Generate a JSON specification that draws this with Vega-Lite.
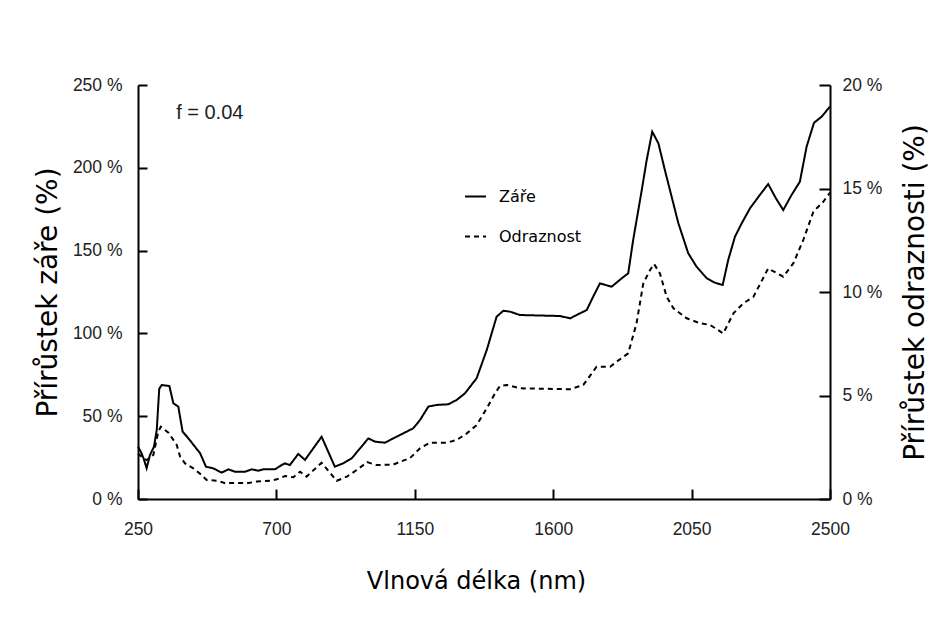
{
  "$schema": "https://vega.github.io/schema/vega-lite/v6.json",
  "width": 692,
  "height": 414,
  "autosize": {"type": "none"},
  "padding": {"left": 138, "top": 85, "right": 122, "bottom": 127},
  "background": "white",
  "config": {
    "view": {"stroke": null},
    "axis": {
      "grid": false,
      "domainColor": "black",
      "domainWidth": 2,
      "tickColor": "black",
      "tickWidth": 2,
      "labelFont": "Liberation Sans",
      "labelFontSize": 17.5,
      "labelColor": "#222",
      "labelFlush": false,
      "labelOverlap": false,
      "titleFont": "DejaVu Sans",
      "titleFontWeight": "normal",
      "titleColor": "black"
    },
    "legend": {
      "orient": "none",
      "legendX": 326,
      "legendY": 100,
      "padding": 0,
      "symbolType": "stroke",
      "symbolSize": 441,
      "symbolStrokeWidth": 2,
      "symbolStrokeColor": "black",
      "labelFont": "DejaVu Sans",
      "labelFontSize": 16,
      "labelColor": "black",
      "labelOffset": 12,
      "rowPadding": 20
    }
  },
  "datasets": {
    "zare": [
      {"nm": 250, "value": 31.6}, {"nm": 261, "value": 27.8}, {"nm": 268, "value": 24.6}, {"nm": 278, "value": 18.6},
      {"nm": 289, "value": 26.6}, {"nm": 302, "value": 31.6}, {"nm": 311, "value": 41.7}, {"nm": 319, "value": 66.5},
      {"nm": 327, "value": 68.8}, {"nm": 352, "value": 68.2}, {"nm": 365, "value": 57.8}, {"nm": 381, "value": 55.8},
      {"nm": 395, "value": 40.7}, {"nm": 414, "value": 36.6}, {"nm": 435, "value": 31.6}, {"nm": 452, "value": 27.6},
      {"nm": 471, "value": 19.5}, {"nm": 495, "value": 18.5}, {"nm": 522, "value": 15.9}, {"nm": 544, "value": 17.9},
      {"nm": 565, "value": 16.5}, {"nm": 598, "value": 16.5}, {"nm": 620, "value": 17.9}, {"nm": 641, "value": 17.1},
      {"nm": 657, "value": 17.9}, {"nm": 695, "value": 17.9}, {"nm": 717, "value": 20.5}, {"nm": 728, "value": 21.5},
      {"nm": 744, "value": 20.5}, {"nm": 771, "value": 27.2}, {"nm": 793, "value": 23.6}, {"nm": 847, "value": 37.6},
      {"nm": 890, "value": 19.5}, {"nm": 917, "value": 21.5}, {"nm": 945, "value": 24.6}, {"nm": 972, "value": 30.6},
      {"nm": 999, "value": 36.6}, {"nm": 1021, "value": 34.6}, {"nm": 1053, "value": 34.0}, {"nm": 1080, "value": 36.6},
      {"nm": 1113, "value": 39.7}, {"nm": 1145, "value": 42.7}, {"nm": 1167, "value": 47.7}, {"nm": 1194, "value": 55.8},
      {"nm": 1221, "value": 56.8}, {"nm": 1259, "value": 57.2}, {"nm": 1286, "value": 59.8}, {"nm": 1313, "value": 63.8},
      {"nm": 1351, "value": 72.9}, {"nm": 1384, "value": 90.0}, {"nm": 1416, "value": 110.1}, {"nm": 1438, "value": 113.7},
      {"nm": 1460, "value": 113.1}, {"nm": 1492, "value": 111.1}, {"nm": 1622, "value": 110.5}, {"nm": 1655, "value": 109.1},
      {"nm": 1676, "value": 111.1}, {"nm": 1709, "value": 114.1}, {"nm": 1730, "value": 122.2}, {"nm": 1752, "value": 130.2},
      {"nm": 1790, "value": 128.2}, {"nm": 1823, "value": 133.3}, {"nm": 1844, "value": 136.3}, {"nm": 1860, "value": 156.4},
      {"nm": 1888, "value": 186.6}, {"nm": 1904, "value": 204.7}, {"nm": 1922, "value": 221.8}, {"nm": 1942, "value": 214.8},
      {"nm": 1963, "value": 198.7}, {"nm": 1985, "value": 182.6}, {"nm": 2007, "value": 166.5}, {"nm": 2039, "value": 148.4},
      {"nm": 2066, "value": 140.3}, {"nm": 2099, "value": 133.3}, {"nm": 2126, "value": 130.6}, {"nm": 2151, "value": 129.2},
      {"nm": 2169, "value": 144.3}, {"nm": 2191, "value": 158.4}, {"nm": 2213, "value": 166.5}, {"nm": 2240, "value": 175.6},
      {"nm": 2272, "value": 183.6}, {"nm": 2299, "value": 190.2}, {"nm": 2324, "value": 181.6}, {"nm": 2348, "value": 174.5},
      {"nm": 2375, "value": 183.6}, {"nm": 2402, "value": 191.6}, {"nm": 2424, "value": 212.8}, {"nm": 2448, "value": 227.2},
      {"nm": 2473, "value": 230.9}, {"nm": 2500, "value": 237.0}
    ],
    "odraznost": [
      {"nm": 250, "value": 2.2}, {"nm": 265, "value": 2.0}, {"nm": 278, "value": 1.88}, {"nm": 300, "value": 2.13},
      {"nm": 316, "value": 3.25}, {"nm": 324, "value": 3.49}, {"nm": 349, "value": 3.2}, {"nm": 376, "value": 2.61},
      {"nm": 387, "value": 2.04}, {"nm": 403, "value": 1.72}, {"nm": 430, "value": 1.48}, {"nm": 457, "value": 1.16},
      {"nm": 473, "value": 0.92}, {"nm": 511, "value": 0.88}, {"nm": 533, "value": 0.76}, {"nm": 571, "value": 0.78},
      {"nm": 603, "value": 0.76}, {"nm": 636, "value": 0.84}, {"nm": 679, "value": 0.88}, {"nm": 701, "value": 0.95},
      {"nm": 728, "value": 1.11}, {"nm": 755, "value": 1.05}, {"nm": 777, "value": 1.32}, {"nm": 798, "value": 1.08},
      {"nm": 847, "value": 1.75}, {"nm": 896, "value": 0.88}, {"nm": 929, "value": 1.08}, {"nm": 961, "value": 1.4},
      {"nm": 995, "value": 1.78}, {"nm": 1026, "value": 1.64}, {"nm": 1080, "value": 1.66}, {"nm": 1102, "value": 1.8},
      {"nm": 1134, "value": 1.97}, {"nm": 1167, "value": 2.45}, {"nm": 1199, "value": 2.72}, {"nm": 1254, "value": 2.72},
      {"nm": 1286, "value": 2.85}, {"nm": 1319, "value": 3.17}, {"nm": 1351, "value": 3.57}, {"nm": 1384, "value": 4.38},
      {"nm": 1411, "value": 5.11}, {"nm": 1427, "value": 5.46}, {"nm": 1449, "value": 5.51}, {"nm": 1492, "value": 5.35},
      {"nm": 1655, "value": 5.3}, {"nm": 1698, "value": 5.51}, {"nm": 1741, "value": 6.39}, {"nm": 1785, "value": 6.39},
      {"nm": 1806, "value": 6.63}, {"nm": 1844, "value": 7.04}, {"nm": 1871, "value": 8.49}, {"nm": 1893, "value": 10.42},
      {"nm": 1915, "value": 11.06}, {"nm": 1928, "value": 11.35}, {"nm": 1947, "value": 10.9}, {"nm": 1969, "value": 9.77},
      {"nm": 1991, "value": 9.21}, {"nm": 2034, "value": 8.73}, {"nm": 2077, "value": 8.49}, {"nm": 2110, "value": 8.41},
      {"nm": 2153, "value": 8.0}, {"nm": 2186, "value": 8.97}, {"nm": 2218, "value": 9.45}, {"nm": 2251, "value": 9.77},
      {"nm": 2299, "value": 11.14}, {"nm": 2348, "value": 10.74}, {"nm": 2381, "value": 11.39}, {"nm": 2413, "value": 12.51},
      {"nm": 2446, "value": 13.88}, {"nm": 2478, "value": 14.36}, {"nm": 2500, "value": 14.8}
    ]
  },
  "layer": [
    {
      "layer": [
        {
          "data": {"name": "zare"},
          "mark": {"type": "line", "color": "black", "strokeWidth": 2},
          "encoding": {
            "x": {
              "field": "nm", "type": "quantitative",
              "scale": {"domain": [250, 2500], "nice": false, "zero": false},
              "axis": {
                "values": [250, 700, 1150, 1600, 2050, 2500],
                "format": "d",
                "title": "Vlnová délka (nm)",
                "titleFontSize": 24,
                "titleX": 338,
                "ticks": false,
                "tickSize": 0,
                "labelPadding": 21,
                "titlePadding": 32
              }
            },
            "y": {
              "field": "value", "type": "quantitative",
              "scale": {"domain": [0, 250], "nice": false},
              "axis": {
                "orient": "left",
                "values": [0, 50, 100, 150, 200, 250],
                "labelExpr": "datum.value + ' %'",
                "title": "Přírůstek záře (%)",
                "titleFontSize": 28,
                "ticks": false,
                "tickSize": 0,
                "labelPadding": 16,
                "titlePadding": 10
              }
            },
            "strokeDash": {
              "datum": "Záře", "type": "nominal",
              "scale": {"domain": ["Záře", "Odraznost"], "range": [[1, 0], [5, 4]]},
              "legend": {"title": null}
            }
          }
        },
        {
          "data": {"values": [{"note": "f = 0.04"}]},
          "mark": {"type": "text", "align": "left", "baseline": "middle", "font": "Liberation Sans", "fontSize": 20, "color": "#222"},
          "encoding": {
            "x": {"datum": 374, "type": "quantitative", "axis": null},
            "y": {
              "datum": 233, "type": "quantitative",
              "axis": {
                "orient": "right",
                "offset": -692,
                "values": [0, 50, 100, 150, 200, 250],
                "labels": false,
                "domain": false,
                "title": null,
                "ticks": true,
                "tickSize": 9
              }
            },
            "text": {"field": "note"}
          }
        }
      ],
      "resolve": {"axis": {"y": "independent", "x": "independent"}}
    },
    {
      "layer": [
        {
          "data": {"name": "odraznost"},
          "mark": {"type": "line", "color": "black", "strokeWidth": 2},
          "encoding": {
            "x": {
              "field": "nm", "type": "quantitative",
              "axis": {
                "orient": "top",
                "offset": -414,
                "values": [250, 700, 1150, 1600, 2050, 2500],
                "labels": false,
                "domain": false,
                "title": null,
                "ticks": true,
                "tickSize": 10
              }
            },
            "y": {
              "field": "value", "type": "quantitative",
              "scale": {"domain": [0, 20], "nice": false},
              "axis": {
                "orient": "right",
                "values": [0, 5, 10, 15, 20],
                "labelExpr": "datum.value + ' %'",
                "title": "Přírůstek odraznosti (%)",
                "titleFontSize": 28,
                "titleAngle": -90,
                "titleBaseline": "top",
                "ticks": false,
                "tickSize": 0,
                "labelPadding": 12,
                "titlePadding": 20
              }
            },
            "strokeDash": {"datum": "Odraznost", "type": "nominal"}
          }
        },
        {
          "data": {"values": [{"note": ""}]},
          "mark": {"type": "text"},
          "encoding": {
            "x": {"datum": 250, "type": "quantitative", "axis": null},
            "y": {
              "datum": 0, "type": "quantitative",
              "axis": {
                "orient": "left",
                "offset": -692,
                "values": [0, 5, 10, 15, 20],
                "labels": false,
                "domain": false,
                "title": null,
                "ticks": true,
                "tickSize": 11
              }
            },
            "text": {"field": "note"}
          }
        }
      ],
      "resolve": {"axis": {"y": "independent", "x": "independent"}}
    }
  ],
  "resolve": {"scale": {"y": "independent"}, "axis": {"x": "independent"}}
}
